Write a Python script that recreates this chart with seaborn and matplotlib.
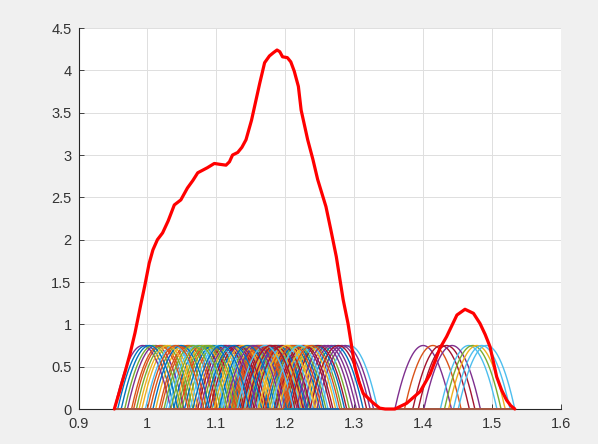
import numpy as np
import pandas as pd
import matplotlib
matplotlib.use("Agg")
import matplotlib.pyplot as plt
import seaborn as sns

# Sample values; each one gets its own Epanechnikov kernel
centers = [
    1.135, 1.021, 1.187, 1.400, 1.252, 1.068, 1.173, 0.998, 1.414, 1.204,
    1.111, 1.241, 1.293, 1.426, 1.161, 1.088, 1.053, 1.012, 1.194, 1.148,
    1.225, 1.079, 1.167, 1.033, 1.262, 1.121, 1.181, 1.434, 1.209, 1.045,
    1.157, 0.993, 1.099, 1.235, 1.176, 1.272, 1.061, 1.142, 1.191, 1.025,
    1.466, 1.114, 1.215, 1.165, 1.082, 1.282, 1.008, 1.199, 1.128, 1.245,
    1.058, 1.183, 1.442, 1.151, 1.038, 1.228, 1.095, 1.169, 1.207, 1.267,
    1.472, 1.072, 1.132, 1.189, 1.018, 1.478, 1.159, 1.218, 1.103, 1.248,
    1.049, 1.178, 1.138, 1.287, 1.085, 1.485, 1.196, 1.003, 1.163, 1.232,
    1.118, 1.065, 1.492, 1.185, 1.145, 1.212, 1.029, 1.257, 1.091, 1.171,
    1.277, 1.125, 1.041, 1.202, 1.154, 1.075, 1.221, 1.179, 1.107, 1.238,
]
bandwidth = 0.041

# Estimated density curve
density_x = [
    0.952, 0.960, 0.968, 0.975, 0.982, 0.990, 0.996, 1.0025, 1.008, 1.0145,
    1.022, 1.030, 1.039, 1.0485, 1.058, 1.066, 1.073, 1.080, 1.087, 1.097,
    1.105, 1.114, 1.119, 1.1235, 1.131, 1.137, 1.143, 1.151, 1.157, 1.163,
    1.170, 1.177, 1.183, 1.188, 1.192, 1.196, 1.203, 1.208, 1.213, 1.219,
    1.223, 1.2325, 1.240, 1.247, 1.253, 1.259, 1.266, 1.274, 1.284, 1.291,
    1.301, 1.307, 1.313, 1.320, 1.327, 1.337, 1.345, 1.352, 1.359, 1.376,
    1.3955, 1.410, 1.4245, 1.434, 1.449, 1.4607, 1.473, 1.4825, 1.490, 1.497,
    1.5067, 1.514, 1.521, 1.527, 1.533,
]
density_y = [
    0.00, 0.22, 0.45, 0.66, 0.90, 1.22, 1.45, 1.72, 1.88, 2.00,
    2.08, 2.22, 2.41, 2.47, 2.61, 2.70, 2.79, 2.82, 2.85, 2.90,
    2.89, 2.88, 2.92, 3.00, 3.03, 3.09, 3.18, 3.41, 3.63, 3.85,
    4.09, 4.17, 4.21, 4.24, 4.22, 4.16, 4.15, 4.10, 3.99, 3.81,
    3.53, 3.18, 2.95, 2.71, 2.55, 2.39, 2.12, 1.80, 1.29, 1.01,
    0.50, 0.32, 0.185, 0.13, 0.075, 0.01, 0.00, 0.00, 0.00, 0.067,
    0.205, 0.41, 0.72, 0.854, 1.11, 1.178, 1.13, 1.01, 0.88, 0.736,
    0.38, 0.22, 0.106, 0.04, 0.00,
]

x_ticks = [0.9, 1.0, 1.1, 1.2, 1.3, 1.4, 1.5, 1.6]
x_tick_labels = ["0.9", "1", "1.1", "1.2", "1.3", "1.4", "1.5", "1.6"]
y_ticks = [0, 0.5, 1, 1.5, 2, 2.5, 3, 3.5, 4, 4.5]
y_tick_labels = ["0", "0.5", "1", "1.5", "2", "2.5", "3", "3.5", "4", "4.5"]

line_colors = ["#0072BD", "#D95319", "#EDB120", "#7E2F8E",
               "#77AC30", "#4DBEEE", "#A2142F"]

sns.set_theme(style="whitegrid")
plt.rcParams["font.family"] = ["Liberation Sans", "DejaVu Sans"]

# Kernel curves evaluated on a shared grid
grid = np.linspace(min(density_x), max(density_x), 600)
frames = []
for i, c in enumerate(centers):
    u = (grid - c) / bandwidth
    k = np.where(np.abs(u) <= 1, 0.75 * (1 - u ** 2), 0.0)
    frames.append(pd.DataFrame({"x": grid, "k": k, "sample": f"s{i:03d}"}))
kernels = pd.concat(frames, ignore_index=True)
order = [f"s{i:03d}" for i in range(len(centers))]
palette = {name: line_colors[i % len(line_colors)] for i, name in enumerate(order)}

fig = plt.figure(figsize=(5.98, 4.44), dpi=100, facecolor="#f0f0f0")
ax = fig.add_axes([78.5 / 598, 35 / 444, (561 - 78.5) / 598, (409 - 28) / 444])
ax.set_facecolor("white")

sns.lineplot(data=kernels, x="x", y="k", hue="sample", hue_order=order,
             palette=palette, legend=False, linewidth=1.0, estimator=None,
             sort=False, ax=ax)
sns.lineplot(x=density_x, y=density_y, color="red", linewidth=2.3,
             estimator=None, sort=False, ax=ax)
for ln in ax.lines:
    ln.set_clip_on(False)
    ln.set_zorder(3)

ax.set_xlim(0.9, 1.6)
ax.set_ylim(0, 4.5)
ax.set_xticks(x_ticks)
ax.set_xticklabels(x_tick_labels)
ax.set_yticks(y_ticks)
ax.set_yticklabels(y_tick_labels)
ax.set_xlabel("")
ax.set_ylabel("")

ax.set_axisbelow(True)
ax.grid(True, color="#dfdfdf", linewidth=0.7)
for side in ["top", "right"]:
    ax.spines[side].set_visible(False)
for side in ["left", "bottom"]:
    ax.spines[side].set_visible(True)
    ax.spines[side].set_color("#262626")
    ax.spines[side].set_linewidth(0.8)
ax.tick_params(axis="both", direction="in", length=3.6, width=0.6,
               color="#262626", labelcolor="#333333", labelsize=10.5,
               left=True, bottom=True)
ax.tick_params(axis="y", pad=5)
ax.tick_params(axis="x", pad=6)

fig.savefig("out.png", dpi=100, facecolor=fig.get_facecolor())
